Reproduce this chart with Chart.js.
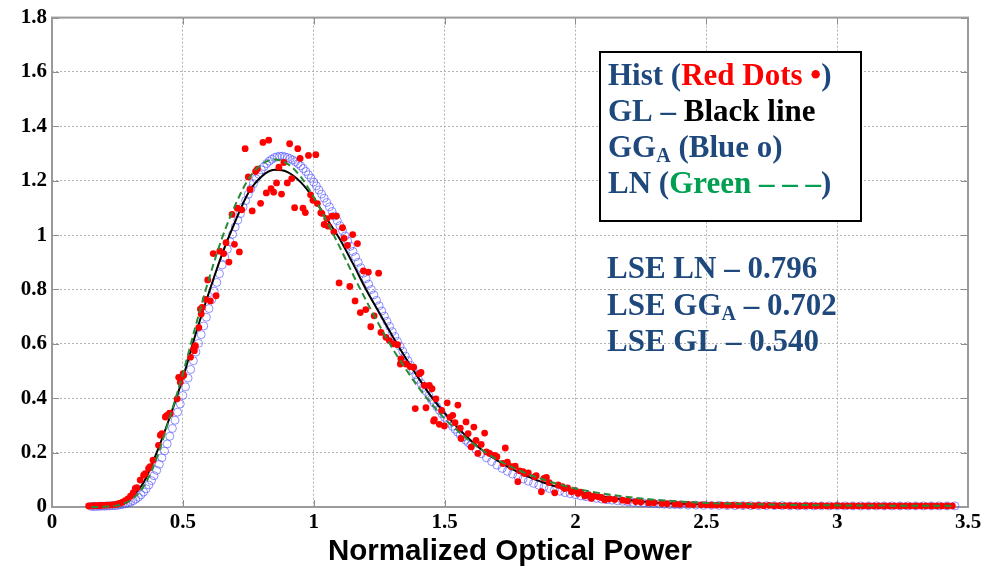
<!DOCTYPE html>
<html>
<head>
<meta charset="utf-8">
<title>Normalized Optical Power</title>
<script src="https://cdn.jsdelivr.net/npm/chart.js@4.4.1/dist/chart.umd.min.js"></script>
<style>
  html, body { margin: 0; padding: 0; background: #fff; }
  #wrap { width: 994px; height: 575px; }
</style>
</head>
<body>
<div id="wrap"><canvas id="chart" width="994" height="575"></canvas></div>
<script>
// axis ticks
const xTicks = [0, 0.5, 1, 1.5, 2, 2.5, 3, 3.5];
const xTickLabels = ['0', '0.5', '1', '1.5', '2', '2.5', '3', '3.5'];
const yTicks = [0, 0.2, 0.4, 0.6, 0.8, 1, 1.2, 1.4, 1.6, 1.8];
const yTickLabels = ['0', '0.2', '0.4', '0.6', '0.8', '1', '1.2', '1.4', '1.6', '1.8'];

// histogram (red dots)
const histX = [
  0.14, 0.15, 0.16, 0.17, 0.18, 0.19, 0.20, 0.21, 0.22, 0.23, 0.24, 0.25, 0.26, 0.27, 0.28, 0.29, 0.30, 0.31,
  0.318, 0.324, 0.337, 0.350, 0.356, 0.369, 0.375, 0.386, 0.407, 0.414, 0.420, 0.433, 0.439, 0.449, 0.452, 0.478, 0.484, 0.490, 0.493, 0.501, 0.503,
  0.529, 0.541, 0.544, 0.548, 0.561, 0.567, 0.570, 0.574, 0.586, 0.595, 0.605, 0.616, 0.627, 0.641, 0.656, 0.665, 0.676, 0.688, 0.697, 0.708, 0.716, 0.725,
  0.738, 0.750, 0.757, 0.765, 0.778, 0.785, 0.797, 0.806, 0.819, 0.828, 0.837, 0.847, 0.858, 0.867, 0.877, 0.886, 0.899, 0.908, 0.916, 0.927, 0.939, 0.948, 0.959, 0.968, 0.980, 0.988, 0.997,
  1.008, 1.014, 1.027, 1.031, 1.040, 1.050, 1.055, 1.069, 1.077, 1.087, 1.097, 1.110, 1.116, 1.129, 1.138, 1.149, 1.158, 1.167, 1.178, 1.190, 1.199, 1.209, 1.218, 1.231, 1.248, 1.257, 1.276, 1.289,
  1.305, 1.320, 1.331, 1.333, 1.352, 1.369, 1.382, 1.388, 1.404, 1.410, 1.423, 1.429, 1.442, 1.452, 1.458, 1.461, 1.467, 1.480, 1.489, 1.499,
  1.510, 1.520, 1.531, 1.540, 1.551, 1.560, 1.563, 1.582, 1.590, 1.602, 1.612, 1.620, 1.627, 1.640, 1.653, 1.660, 1.672, 1.691, 1.700, 1.723,
  1.732, 1.740, 1.755, 1.770, 1.780, 1.787, 1.800, 1.806, 1.820, 1.844, 1.850, 1.870, 1.880, 1.889, 1.900, 1.921, 1.934, 1.950, 1.959, 1.970, 1.985,
  2.000, 2.010, 2.020, 2.036, 2.050, 2.061, 2.070, 2.087, 2.100, 2.112, 2.130, 2.150, 2.180, 2.200, 2.230, 2.250, 2.280, 2.300, 2.330, 2.350,
  2.380, 2.400, 2.430, 2.450, 2.480, 2.500,
  2.52, 2.54, 2.56, 2.58, 2.60, 2.62, 2.64, 2.66, 2.68, 2.70, 2.72, 2.74, 2.76, 2.78, 2.80, 2.82, 2.84, 2.86, 2.88, 2.90,
  2.92, 2.94, 2.96, 2.98, 3.00, 3.02, 3.04, 3.06, 3.08, 3.10, 3.12, 3.14, 3.16, 3.18, 3.20, 3.22, 3.24, 3.26, 3.28, 3.30,
  3.32, 3.34, 3.36, 3.38, 3.40, 3.42, 3.44
];
const histY = [
  0.004, 0.004, 0.005, 0.005, 0.005, 0.006, 0.006, 0.007, 0.007, 0.008, 0.009, 0.011, 0.014, 0.018, 0.023, 0.030, 0.040, 0.052,
  0.068, 0.071, 0.099, 0.117, 0.123, 0.142, 0.148, 0.172, 0.227, 0.264, 0.270, 0.331, 0.337, 0.345, 0.343, 0.398, 0.477, 0.459, 0.477, 0.490, 0.484,
  0.551, 0.581, 0.575, 0.593, 0.660, 0.728, 0.710, 0.734, 0.764, 0.835, 0.758, 0.932, 0.777, 0.941, 0.932, 0.972, 0.901, 1.076, 0.966, 1.099, 0.938, 1.093,
  1.318, 1.214, 1.168, 1.089, 1.234, 1.243, 1.117, 1.341, 1.155, 1.349, 1.171, 1.158, 1.192, 1.250, 1.151, 1.267, 1.192, 1.336, 1.208, 1.101, 1.318, 1.282, 1.099, 1.083, 1.293, 1.148, 1.128,
  1.296, 1.116, 1.082, 1.080, 1.039, 1.061, 1.033, 1.070, 1.012, 1.070, 0.824, 1.027, 0.988, 0.962, 0.811, 1.002, 0.758, 0.969, 0.715, 0.868, 0.726, 0.864, 0.663, 0.703, 0.860, 0.642, 0.624, 0.612,
  0.600, 0.597, 0.526, 0.545, 0.526, 0.516, 0.514, 0.362, 0.490, 0.495, 0.447, 0.365, 0.447, 0.435, 0.316, 0.321, 0.398, 0.304, 0.355, 0.298,
  0.383, 0.330, 0.337, 0.310, 0.375, 0.290, 0.252, 0.313, 0.270, 0.221, 0.294, 0.245, 0.197, 0.230, 0.272, 0.203, 0.197, 0.190, 0.185, 0.160,
  0.217, 0.165, 0.148, 0.150, 0.093, 0.133, 0.130, 0.123, 0.125, 0.111, 0.115, 0.056, 0.105, 0.109, 0.090, 0.052, 0.081, 0.075, 0.068, 0.070, 0.056,
  0.060, 0.050, 0.055, 0.040, 0.045, 0.032, 0.040, 0.038, 0.035, 0.026, 0.030, 0.028, 0.025, 0.022, 0.020, 0.018, 0.015, 0.016, 0.013, 0.012,
  0.011, 0.010, 0.010, 0.009, 0.008, 0.008,
  0.007, 0.007, 0.007, 0.006, 0.007, 0.006, 0.006, 0.006, 0.005, 0.006, 0.005, 0.006, 0.005, 0.005, 0.005, 0.005, 0.005, 0.004, 0.005, 0.005,
  0.004, 0.005, 0.004, 0.004, 0.005, 0.004, 0.004, 0.004, 0.004, 0.004, 0.004, 0.004, 0.004, 0.004, 0.004, 0.004, 0.004, 0.004, 0.004, 0.004,
  0.004, 0.004, 0.004, 0.004, 0.004, 0.004, 0.004
];

// fitted curves GL (black) and LN (green dashed)
const curveX = [
  0.15, 0.20, 0.25, 0.30, 0.35, 0.40, 0.45, 0.50, 0.55, 0.60, 0.65, 0.70, 0.75, 0.80, 0.85, 0.90, 0.95, 1.00, 1.05,
  1.10, 1.15, 1.20, 1.25, 1.30, 1.35, 1.40, 1.45, 1.50, 1.55, 1.60, 1.65, 1.70, 1.75, 1.80, 1.85, 1.90, 1.95, 2.00,
  2.1, 2.2, 2.3, 2.4, 2.5, 2.6, 2.8, 3.0, 3.2, 3.45
];
const glY = [
  0.001, 0.003, 0.012, 0.035, 0.090, 0.200, 0.330, 0.475, 0.640, 0.790, 0.930, 1.050, 1.155, 1.215, 1.240, 1.232, 1.195, 1.135, 1.060,
  0.985, 0.895, 0.800, 0.715, 0.630, 0.550, 0.475, 0.405, 0.345, 0.292, 0.245, 0.205, 0.172, 0.144, 0.120, 0.100, 0.083, 0.069, 0.057,
  0.039, 0.026, 0.017, 0.012, 0.009, 0.007, 0.005, 0.004, 0.004, 0.003
];
const lnY = [
  0.000, 0.001, 0.006, 0.025, 0.075, 0.180, 0.330, 0.490, 0.670, 0.840, 0.990, 1.110, 1.205, 1.260, 1.278, 1.262, 1.215, 1.140, 1.050,
  0.955, 0.855, 0.760, 0.670, 0.585, 0.510, 0.440, 0.380, 0.325, 0.280, 0.240, 0.205, 0.175, 0.150, 0.128, 0.110, 0.094, 0.080, 0.068,
  0.050, 0.037, 0.027, 0.020, 0.015, 0.012, 0.008, 0.006, 0.005, 0.004
];

// GG_A fit (blue circles), sampled on three uniform x grids
const ggaY1 = [ // x = 0.15 .. 1.60, step 0.01
  0.002, 0.002, 0.002, 0.003, 0.003, 0.003, 0.004, 0.004, 0.005, 0.005,
  0.006, 0.008, 0.010, 0.012, 0.015, 0.018, 0.023, 0.029, 0.036, 0.045,
  0.055, 0.067, 0.081, 0.097, 0.115, 0.135, 0.157, 0.181, 0.206, 0.232,
  0.260, 0.289, 0.319, 0.349, 0.379, 0.410, 0.442, 0.474, 0.506, 0.538,
  0.570, 0.602, 0.634, 0.666, 0.698, 0.730, 0.762, 0.794, 0.826, 0.858,
  0.890, 0.919, 0.948, 0.976, 1.003, 1.030, 1.055, 1.079, 1.103, 1.127,
  1.150, 1.170, 1.189, 1.207, 1.224, 1.240, 1.252, 1.263, 1.272, 1.279,
  1.285, 1.288, 1.290, 1.290, 1.288, 1.285, 1.281, 1.276, 1.270, 1.263,
  1.255, 1.245, 1.234, 1.222, 1.209, 1.195, 1.181, 1.166, 1.151, 1.136,
  1.120, 1.104, 1.087, 1.070, 1.053, 1.035, 1.016, 0.997, 0.978, 0.959,
  0.940, 0.920, 0.900, 0.880, 0.860, 0.840, 0.820, 0.800, 0.780, 0.760,
  0.740, 0.721, 0.702, 0.683, 0.664, 0.645, 0.627, 0.609, 0.591, 0.573,
  0.555, 0.538, 0.521, 0.504, 0.487, 0.470, 0.455, 0.440, 0.425, 0.410,
  0.395, 0.382, 0.369, 0.356, 0.343, 0.330, 0.319, 0.308, 0.297, 0.286,
  0.275, 0.265, 0.256, 0.246, 0.237, 0.228
];
const ggaY2 = [ // x = 1.62 .. 2.40, step 0.02
  0.212, 0.196, 0.181, 0.167, 0.154, 0.142, 0.131, 0.121, 0.112, 0.103,
  0.095, 0.087, 0.080, 0.074, 0.068, 0.063, 0.058, 0.053, 0.049, 0.045,
  0.041, 0.038, 0.035, 0.032, 0.029, 0.027, 0.025, 0.023, 0.021, 0.019,
  0.017, 0.016, 0.015, 0.013, 0.012, 0.011, 0.010, 0.009, 0.009, 0.008
];
const ggaY3 = [ // x = 2.43 .. 3.45, step 0.03
  0.007, 0.007, 0.006, 0.006, 0.006, 0.005, 0.005, 0.005, 0.005, 0.005,
  0.005, 0.005, 0.005, 0.004, 0.004, 0.004, 0.004, 0.004, 0.004, 0.004,
  0.004, 0.004, 0.004, 0.004, 0.004, 0.004, 0.004, 0.004, 0.004, 0.004,
  0.004, 0.004, 0.004, 0.004, 0.004
];

// text in the annotation boxes
const BLUE_TXT = '#1f497d';
const legendLines = [
  [['Hist (', BLUE_TXT], ['Red Dots \u2022', '#ff0000'], [')', BLUE_TXT]],
  [['GL \u2013 ', BLUE_TXT], ['Black line', '#000000']],
  [['GG', BLUE_TXT], ['A', BLUE_TXT, 'sub'], [' (Blue o)', BLUE_TXT]],
  [['LN (', BLUE_TXT], ['Green \u2013 \u2013 \u2013', '#00a050'], [')', BLUE_TXT]]
];
const lseLines = [
  [['LSE LN \u2013 0.796', BLUE_TXT]],
  [['LSE GG', BLUE_TXT], ['A', BLUE_TXT, 'sub'], [' \u2013 0.702', BLUE_TXT]],
  [['LSE GL \u2013 0.540', BLUE_TXT]]
];

const pairs = (xs, ys) => xs.map((x, i) => ({ x: x, y: ys[i] }));
const gridPts = (start, step, ys) => ys.map((y, i) => ({ x: +(start + i * step).toFixed(2), y: y }));

const ggaData = gridPts(0.15, 0.01, ggaY1)
  .concat(gridPts(1.62, 0.02, ggaY2))
  .concat(gridPts(2.43, 0.03, ggaY3));

const MAIN_FONT = 'bold 31px "Liberation Serif", "Times New Roman", serif';
const SUB_FONT = 'bold 20px "Liberation Serif", "Times New Roman", serif';

function drawRuns(ctx, runs, x, y) {
  runs.forEach(r => {
    const sub = r[2] === 'sub';
    ctx.font = sub ? SUB_FONT : MAIN_FONT;
    ctx.fillStyle = r[1];
    ctx.fillText(r[0], x, y + (sub ? 5 : 0));
    x += ctx.measureText(r[0]).width;
  });
}

// axes box with inward tick marks (Matlab style)
const boxPlugin = {
  id: 'box',
  beforeDatasetsDraw(chart) {
    const { ctx, chartArea: a, scales } = chart;
    ctx.save();
    ctx.strokeStyle = '#8c8c8c';
    ctx.lineWidth = 1;
    xTicks.forEach(v => {
      const px = Math.round(scales.x.getPixelForValue(v)) + 0.5;
      ctx.beginPath();
      ctx.moveTo(px, a.bottom); ctx.lineTo(px, a.bottom - 7);
      ctx.moveTo(px, a.top); ctx.lineTo(px, a.top + 7);
      ctx.stroke();
    });
    yTicks.forEach(v => {
      const py = Math.round(scales.y.getPixelForValue(v)) + 0.5;
      ctx.beginPath();
      ctx.moveTo(a.left, py); ctx.lineTo(a.left + 7, py);
      ctx.moveTo(a.right, py); ctx.lineTo(a.right - 7, py);
      ctx.stroke();
    });
    ctx.lineWidth = 2;
    ctx.strokeStyle = '#9a9a9a';
    ctx.strokeRect(a.left, a.top, a.right - a.left, a.bottom - a.top);
    ctx.restore();
  }
};

const textPlugin = {
  id: 'notes',
  afterDraw(chart) {
    const ctx = chart.ctx;
    ctx.save();
    ctx.fillStyle = '#ffffff';
    ctx.fillRect(600, 52, 261, 169);
    ctx.strokeStyle = '#000000';
    ctx.lineWidth = 2;
    ctx.strokeRect(600, 52, 261, 169);
    ctx.textBaseline = 'alphabetic';
    ctx.textAlign = 'left';
    legendLines.forEach((line, i) => drawRuns(ctx, line, 608, 85 + i * 36));
    lseLines.forEach((line, i) => drawRuns(ctx, line, 607, 278 + i * 36.5));
    ctx.restore();
  }
};

const tickFont = { family: '"Liberation Serif", "Times New Roman", serif', weight: 'bold', size: 21 };

new Chart(document.getElementById('chart'), {
  type: 'scatter',
  data: {
    datasets: [
      {
        label: 'LN',
        data: pairs(curveX, lnY),
        showLine: true,
        borderColor: '#2a8a3a',
        borderWidth: 2,
        borderDash: [7, 4],
        pointRadius: 0,
        cubicInterpolationMode: 'monotone',
        clip: false,
        order: 1
      },
      {
        label: 'Hist',
        data: pairs(histX, histY),
        backgroundColor: '#ff0000',
        borderWidth: 0,
        pointRadius: 3.4,
        clip: false,
        order: 2
      },
      {
        label: 'GL',
        data: pairs(curveX, glY),
        showLine: true,
        borderColor: '#000000',
        borderWidth: 2,
        pointRadius: 0,
        cubicInterpolationMode: 'monotone',
        clip: false,
        order: 3
      },
      {
        label: 'GGA',
        data: ggaData,
        backgroundColor: 'rgba(0,0,0,0)',
        borderColor: 'rgba(70,70,255,0.6)',
        borderWidth: 1,
        pointRadius: 4,
        clip: false,
        order: 4
      }
    ]
  },
  options: {
    responsive: false,
    animation: false,
    layout: { padding: { top: 15, right: 26, bottom: 0, left: 0 } },
    plugins: {
      legend: { display: false },
      tooltip: { enabled: false }
    },
    scales: {
      x: {
        type: 'linear',
        min: 0,
        max: 3.5,
        afterBuildTicks: s => { s.ticks = xTicks.map(v => ({ value: v })); },
        afterFit: s => { s.height = 68; },
        ticks: {
          callback: v => xTickLabels[xTicks.indexOf(v)],
          font: tickFont,
          color: '#000',
          padding: 3,
          maxRotation: 0,
          autoSkip: false
        },
        grid: { color: '#b2b2b2', lineWidth: 1, drawTicks: false },
        border: { display: false, dash: [2, 2] },
        title: {
          display: true,
          text: 'Normalized Optical Power',
          color: '#000',
          font: { family: '"Liberation Sans", Arial, sans-serif', weight: 'bold', size: 29.5 },
          padding: { top: 0, bottom: 5 }
        }
      },
      y: {
        min: 0,
        max: 1.8,
        afterBuildTicks: s => { s.ticks = yTicks.map(v => ({ value: v })); },
        afterFit: s => { s.width = 52; },
        ticks: {
          callback: v => yTickLabels[yTicks.findIndex(t => Math.abs(t - v) < 1e-9)],
          font: tickFont,
          color: '#000',
          padding: 5,
          autoSkip: false
        },
        grid: { color: '#b2b2b2', lineWidth: 1, drawTicks: false },
        border: { display: false, dash: [2, 2] }
      }
    }
  },
  plugins: [boxPlugin, textPlugin]
});
</script>
</body>
</html>
